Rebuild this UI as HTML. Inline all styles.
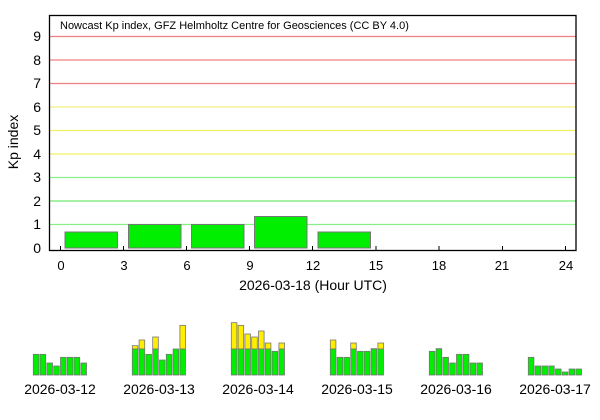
<!DOCTYPE html>
<html><head><meta charset="utf-8"><style>
html,body{margin:0;padding:0;background:#fff;}
svg{display:block;font-family:"Liberation Sans",sans-serif;}
</style></head><body>
<svg width="600" height="420" viewBox="0 0 600 420">
<rect x="0" y="0" width="600" height="420" fill="#fff"/>
<g stroke-width="1.2">
<line x1="50" x2="576" y1="224.5" y2="224.5" stroke="#88ee88"/>
<line x1="50" x2="576" y1="201" y2="201" stroke="#99f099" stroke-width="1.8"/>
<line x1="50" x2="576" y1="177.5" y2="177.5" stroke="#88ee88"/>
<line x1="50" x2="576" y1="154" y2="154" stroke="#f0f060"/>
<line x1="50" x2="576" y1="130.5" y2="130.5" stroke="#f0f060"/>
<line x1="50" x2="576" y1="107" y2="107" stroke="#f0f080"/>
<line x1="50" x2="576" y1="83.5" y2="83.5" stroke="#f08080"/>
<line x1="50" x2="576" y1="60" y2="60" stroke="#f08080"/>
<line x1="50" x2="576" y1="36.5" y2="36.5" stroke="#f08080"/>
</g>
<g fill="#00ee00" stroke="#777" stroke-width="1">
<rect x="65" y="232" width="52.5" height="16"/>
<rect x="128.5" y="224.5" width="52.5" height="23.5"/>
<rect x="191.5" y="224.5" width="52.5" height="23.5"/>
<rect x="254.5" y="216.5" width="52.5" height="31.5"/>
<rect x="318" y="232" width="52.5" height="16"/>
</g>
<rect x="49.5" y="15.5" width="526.5" height="235" fill="none" stroke="#000" stroke-width="1.3"/>
<g stroke="#000" stroke-width="1">
<line x1="60.5" x2="60.5" y1="246" y2="250.5"/><line x1="123.5" x2="123.5" y1="246" y2="250.5"/>
<line x1="186.5" x2="186.5" y1="246" y2="250.5"/><line x1="249.5" x2="249.5" y1="246" y2="250.5"/>
<line x1="312.5" x2="312.5" y1="246" y2="250.5"/><line x1="376" x2="376" y1="246" y2="250.5"/>
<line x1="439" x2="439" y1="246" y2="250.5"/><line x1="502.5" x2="502.5" y1="246" y2="250.5"/>
<line x1="565.5" x2="565.5" y1="246" y2="250.5"/>
</g>
<text x="60" y="29" font-size="11">Nowcast Kp index, GFZ Helmholtz Centre for Geosciences (CC BY 4.0)</text>
<g font-size="14" text-anchor="end">
<text x="41" y="253">0</text><text x="41" y="229">1</text><text x="41" y="206">2</text><text x="41" y="182">3</text><text x="41" y="159">4</text><text x="41" y="135">5</text><text x="41" y="112">6</text><text x="41" y="88">7</text><text x="41" y="65">8</text><text x="41" y="41">9</text>
</g>
<g font-size="13" text-anchor="middle">
<text x="61" y="270">0</text><text x="124" y="270">3</text><text x="187" y="270">6</text><text x="250" y="270">9</text><text x="313" y="270">12</text><text x="376" y="270">15</text><text x="439" y="270">18</text><text x="502" y="270">21</text><text x="566" y="270">24</text>
</g>
<text x="313" y="290" font-size="14" text-anchor="middle">2026-03-18 (Hour UTC)</text>
<text transform="translate(18,142) rotate(-90)" font-size="14" text-anchor="middle">Kp index</text>
<g id="mini" stroke="#777" stroke-width="0.8"></g>
<g font-size="14" text-anchor="middle">
<text x="60" y="394">2026-03-12</text><text x="159" y="394">2026-03-13</text><text x="258" y="394">2026-03-14</text><text x="357" y="394">2026-03-15</text><text x="456" y="394">2026-03-16</text><text x="555" y="394">2026-03-17</text>
</g>
</svg>
<script>
var days=[[33.3,[133,133,159,168,142,142,142,159]],[132.3,[107,90,133,81,150,133,117,46]],[231.3,[38,46,72,81,63,99,124,99]],[330.3,[90,142,142,99,124,124,116,99]],[429.3,[124,116,142,159,133,133,159,159]],[528.3,[142,168,168,168,177,186,177,177]]];
var g=document.getElementById('mini'),ns='http://www.w3.org/2000/svg',base=375,gcap=375-78/3;
days.forEach(function(d){d[1].forEach(function(t,i){var x=d[0]+i*6.8,top=375-(195-t)/3;
function r(y1,y2,c){var e=document.createElementNS(ns,'rect');e.setAttribute('x',x);e.setAttribute('y',y1);e.setAttribute('width',5.6);e.setAttribute('height',y2-y1);e.setAttribute('fill',c);g.appendChild(e);}
if(top<gcap){r(top,gcap,'#ffee00');r(gcap,base,'#00ee00');}else r(top,base,'#00ee00');});});
</script>
</body></html>
